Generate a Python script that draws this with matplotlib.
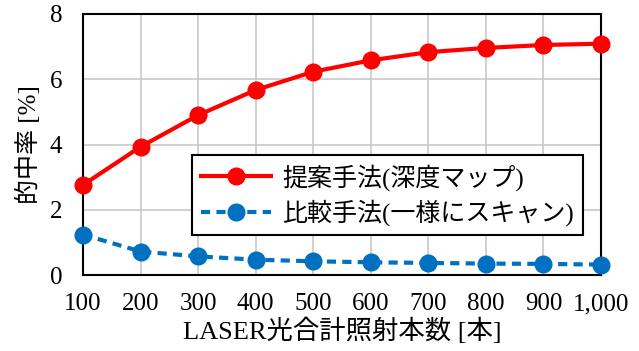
import numpy as np
import matplotlib
matplotlib.use("Agg")
import matplotlib.pyplot as plt
from matplotlib.ticker import FuncFormatter

plt.rcParams['font.family'] = ['Liberation Serif', 'Noto Sans CJK JP']

# data
shots = [100, 200, 300, 400, 500, 600, 700, 800, 900, 1000]
proposed = [2.76, 3.93, 4.90, 5.67, 6.23, 6.58, 6.83, 6.96, 7.05, 7.09]
baseline = [1.24, 0.72, 0.57, 0.47, 0.42, 0.39, 0.37, 0.35, 0.34, 0.32]
label_proposed = "提案手法(深度マップ)"
label_baseline = "比較手法(一様にスキャン)"
xlabel = "LASER光合計照射本数 [本]"
ylabel = "的中率 [%]"

fig = plt.figure(figsize=(6.39, 3.51), dpi=100)
ax = fig.add_axes([83/639, 1 - 275/351, (601-83)/639, (275-14)/351])

ax.plot(shots, proposed, color='#ff0000', lw=3, marker='o', ms=12,
        label=label_proposed, clip_on=False, zorder=4)
ax.plot(shots, baseline, color='#0070c0', lw=3, ls=(0, (2.2, 1.5)), marker='o',
        ms=12, label=label_baseline, clip_on=False, zorder=4)

ax.set_xlim(100, 1000)
ax.set_ylim(0, 8)
ax.set_xticks(shots)
ax.set_yticks(range(0, 9, 2))
ax.xaxis.set_major_formatter(FuncFormatter(lambda v, p: f"{int(v):,}"))
ax.tick_params(axis='x', length=0, labelsize=18, pad=13)
ax.tick_params(axis='y', length=0, labelsize=18, pad=15)
ax.grid(color='#c8c8c8', lw=1.2)
ax.set_axisbelow(True)
for s in ax.spines.values():
    s.set_linewidth(1.5)
    s.set_color('black')

ax.set_xlabel(xlabel, fontsize=19, labelpad=2)
ax.set_ylabel(ylabel, fontsize=18, labelpad=6)

leg = ax.legend(loc='upper left', bbox_to_anchor=((192-83)/(601-83), (275-155)/(275-14)),
                fontsize=18, frameon=True, fancybox=False, edgecolor='black',
                framealpha=1, borderpad=0.35, handlelength=2.8, handletextpad=0.45,
                labelspacing=0.35, borderaxespad=0)
leg.get_frame().set_linewidth(1.5)

fig.savefig("out.png", dpi=100)
